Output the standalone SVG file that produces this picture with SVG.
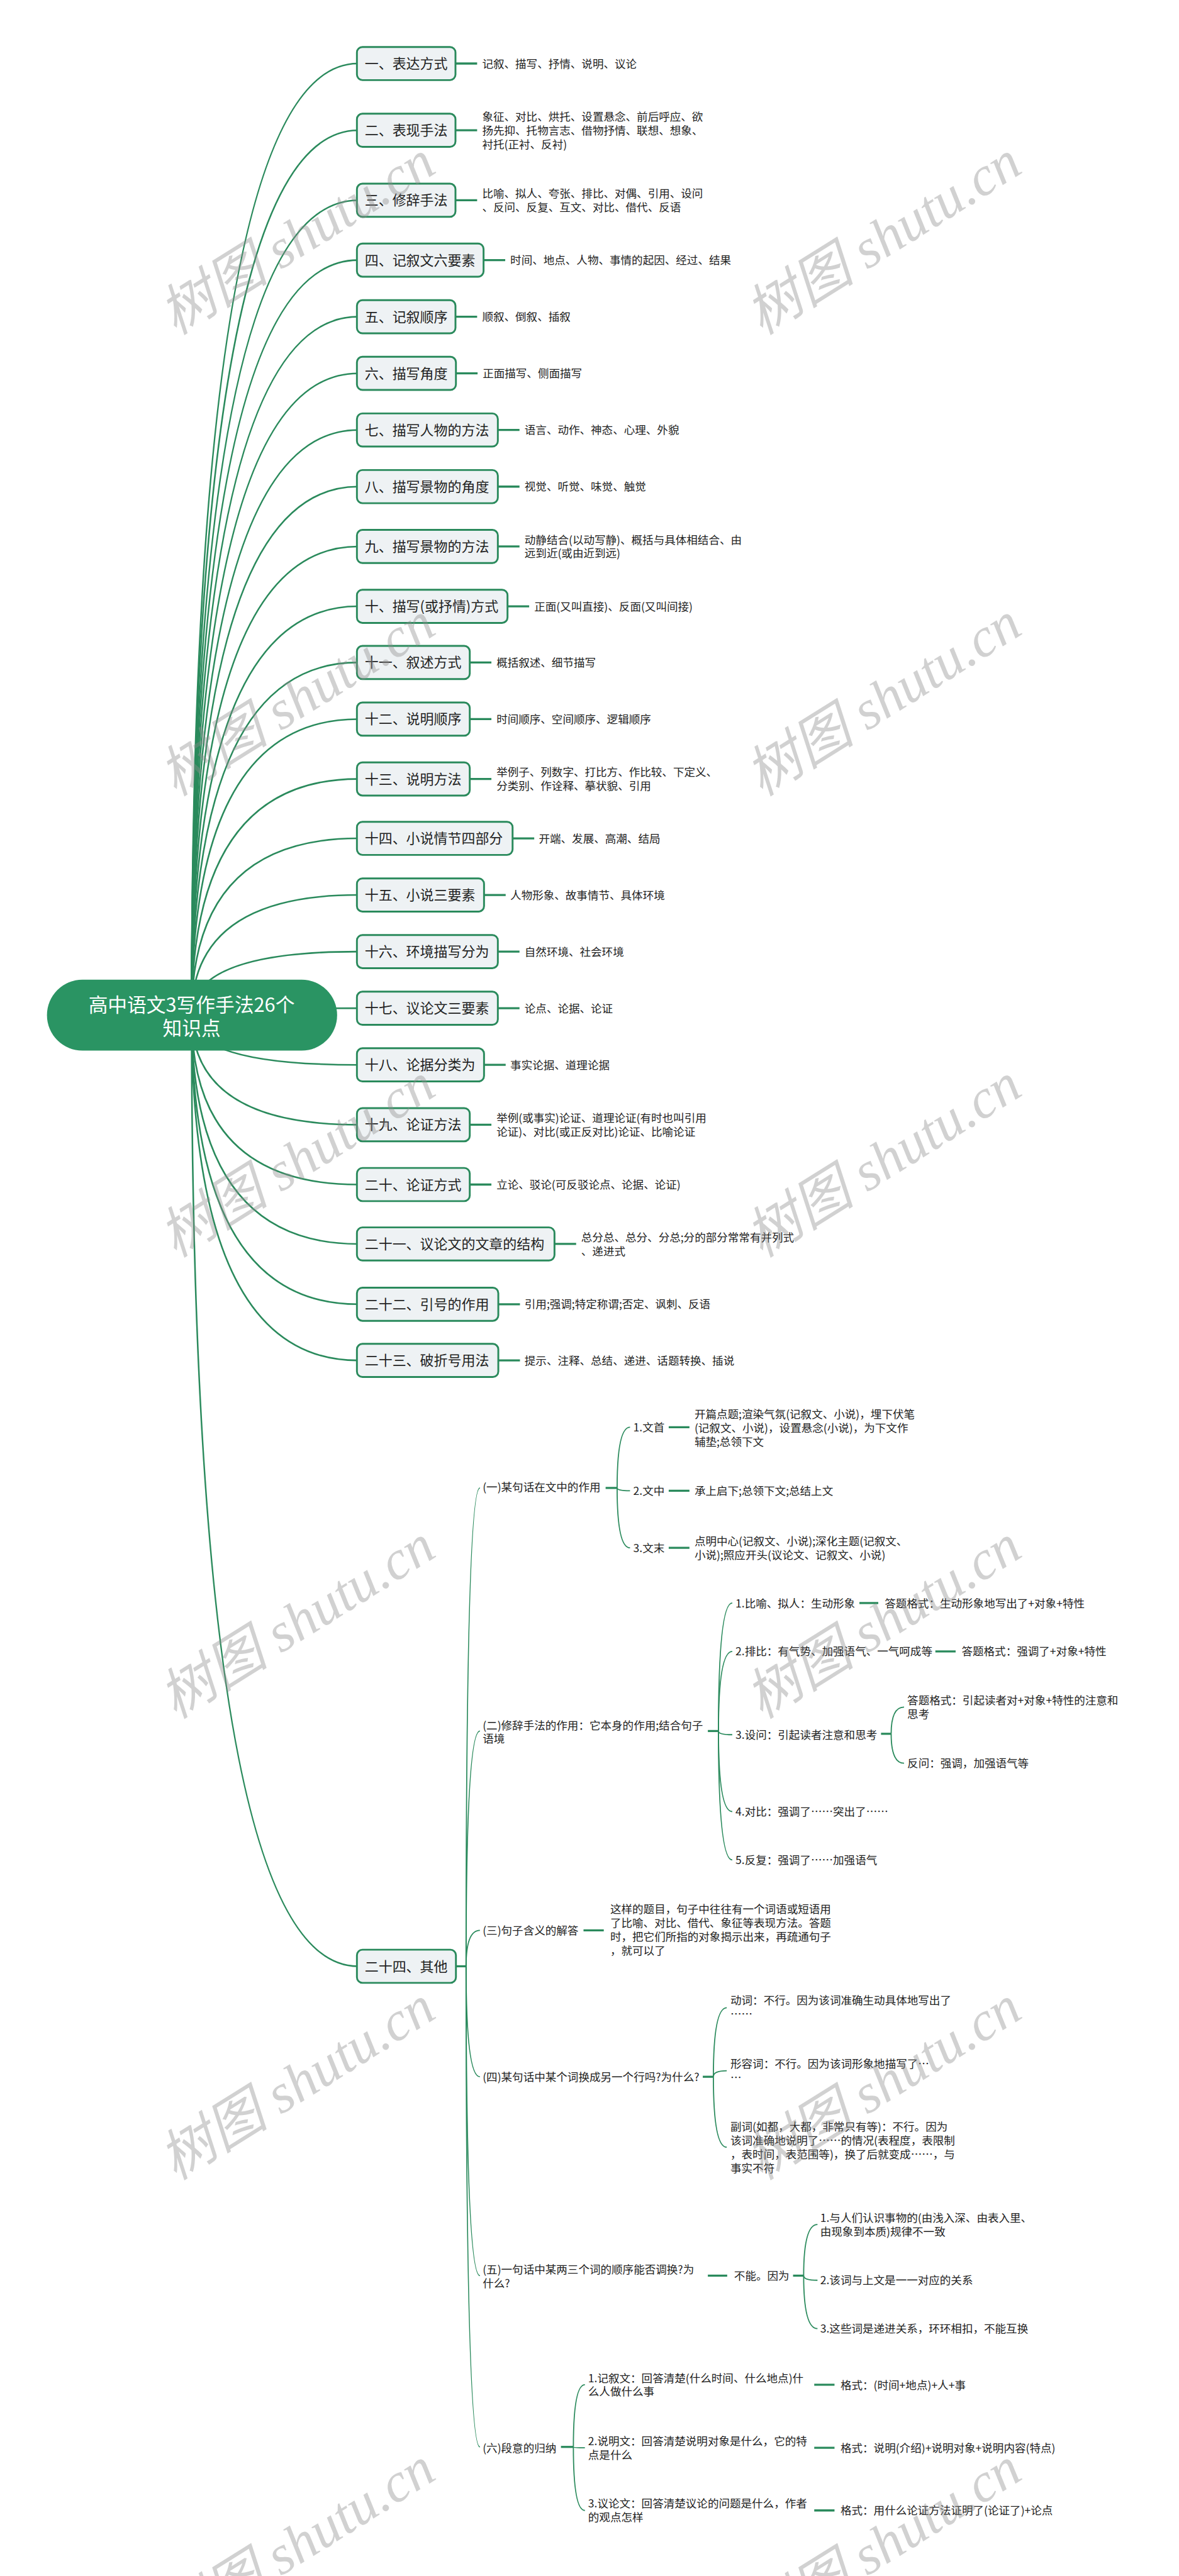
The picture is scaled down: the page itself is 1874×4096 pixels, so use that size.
<svg xmlns="http://www.w3.org/2000/svg" width="1874" height="4096" viewBox="0 0 1874 4096">
<style>
.c{fill:none;stroke:#2a8a5c;stroke-width:3.5}
.s{fill:none;stroke:#2a8a5c;stroke-width:2.5}
.k{stroke:#2a8a5c;stroke-width:4.5}
.box{fill:#eef2f4;stroke:#2a8a5c;stroke-width:4}
text{font-family:"Noto Sans CJK SC","Liberation Sans",sans-serif;fill:#222}
.nt{font-size:30px}
.lt{font-size:24px}
.rt{font-size:42px;fill:#ffffff;text-anchor:middle}
.wm{font-family:"Liberation Serif","Noto Sans CJK SC",serif;font-style:italic;font-size:120px;fill:#8c8c8c;fill-opacity:0.4;text-anchor:middle}
</style>
<rect width="1874" height="4096" fill="#ffffff"/>
<g transform="scale(0.73203)">
<g id="connectors">
<path class="c" d="M416 2205 Q416 138 777 138"/>
<path class="c" d="M416 2205 Q416 283 777 283"/>
<path class="c" d="M416 2205 Q416 435 777 435"/>
<path class="c" d="M416 2205 Q416 565 777 565"/>
<path class="c" d="M416 2205 Q416 688 777 688"/>
<path class="c" d="M416 2205 Q416 811 777 811"/>
<path class="c" d="M416 2205 Q416 934 777 934"/>
<path class="c" d="M416 2205 Q416 1057 777 1057"/>
<path class="c" d="M416 2205 Q416 1187 777 1187"/>
<path class="c" d="M416 2205 Q416 1317 777 1317"/>
<path class="c" d="M416 2205 Q416 1439 777 1439"/>
<path class="c" d="M416 2205 Q416 1562 777 1562"/>
<path class="c" d="M416 2205 Q416 1692 777 1692"/>
<path class="c" d="M416 2205 Q416 1821 777 1821"/>
<path class="c" d="M416 2205 Q416 1944 777 1944"/>
<path class="c" d="M416 2205 Q416 2067 777 2067"/>
<path class="c" d="M416 2205 Q416 2190 777 2190"/>
<path class="c" d="M416 2205 Q416 2313 777 2313"/>
<path class="c" d="M416 2205 Q416 2443 777 2443"/>
<path class="c" d="M416 2205 Q416 2573 777 2573"/>
<path class="c" d="M416 2205 Q416 2702 777 2702"/>
<path class="c" d="M416 2205 Q416 2833 777 2833"/>
<path class="c" d="M416 2205 Q416 2955 777 2955"/>
<path class="c" d="M416 2205 Q416 4271 777 4271"/>
<line class="k" x1="989" y1="138" x2="1036" y2="138"/>
<line class="k" x1="989" y1="283" x2="1036" y2="283"/>
<line class="k" x1="989" y1="435" x2="1036" y2="435"/>
<line class="k" x1="1050" y1="565" x2="1097" y2="565"/>
<line class="k" x1="989" y1="688" x2="1036" y2="688"/>
<line class="k" x1="990" y1="811" x2="1037" y2="811"/>
<line class="k" x1="1081" y1="934" x2="1128" y2="934"/>
<line class="k" x1="1081" y1="1057" x2="1128" y2="1057"/>
<line class="k" x1="1081" y1="1187" x2="1128" y2="1187"/>
<line class="k" x1="1102" y1="1317" x2="1149" y2="1317"/>
<line class="k" x1="1020" y1="1439" x2="1067" y2="1439"/>
<line class="k" x1="1020" y1="1562" x2="1067" y2="1562"/>
<line class="k" x1="1020" y1="1692" x2="1067" y2="1692"/>
<line class="k" x1="1113" y1="1821" x2="1160" y2="1821"/>
<line class="k" x1="1051" y1="1944" x2="1098" y2="1944"/>
<line class="k" x1="1081" y1="2067" x2="1128" y2="2067"/>
<line class="k" x1="1081" y1="2190" x2="1128" y2="2190"/>
<line class="k" x1="1051" y1="2313" x2="1098" y2="2313"/>
<line class="k" x1="1020" y1="2443" x2="1067" y2="2443"/>
<line class="k" x1="1020" y1="2573" x2="1067" y2="2573"/>
<line class="k" x1="1204" y1="2702" x2="1251" y2="2702"/>
<line class="k" x1="1082" y1="2833" x2="1129" y2="2833"/>
<line class="k" x1="1082" y1="2955" x2="1129" y2="2955"/>
<line class="k" x1="990" y1="4271" x2="1012" y2="4271"/>
<path class="s" d="M1012 4271 Q1012 3232 1042 3232"/>
<path class="s" d="M1012 4271 Q1012 3760 1042 3760"/>
<path class="s" d="M1012 4271 Q1012 4193 1042 4193"/>
<path class="s" d="M1012 4271 Q1012 4511 1042 4511"/>
<path class="s" d="M1012 4271 Q1012 4943 1042 4943"/>
<path class="s" d="M1012 4271 Q1012 5315 1042 5315"/>
<line class="k" x1="1315" y1="3232" x2="1340" y2="3232"/>
<path class="s" d="M1340 3232 Q1340 3100 1368 3100"/>
<path class="s" d="M1340 3232 Q1340 3238 1368 3238"/>
<path class="s" d="M1340 3232 Q1340 3362 1368 3362"/>
<line class="k" x1="1452" y1="3100" x2="1497" y2="3100"/>
<line class="k" x1="1452" y1="3238" x2="1497" y2="3238"/>
<line class="k" x1="1452" y1="3362" x2="1497" y2="3362"/>
<line class="k" x1="1537" y1="3760" x2="1560" y2="3760"/>
<path class="s" d="M1560 3760 Q1560 3482 1590 3482"/>
<path class="s" d="M1560 3760 Q1560 3587 1590 3587"/>
<path class="s" d="M1560 3760 Q1560 3768 1590 3768"/>
<path class="s" d="M1560 3760 Q1560 3935 1590 3935"/>
<path class="s" d="M1560 3760 Q1560 4040 1590 4040"/>
<line class="k" x1="1866" y1="3482" x2="1907" y2="3482"/>
<line class="k" x1="2031" y1="3587" x2="2075" y2="3587"/>
<line class="k" x1="1913" y1="3766" x2="1935" y2="3766"/>
<path class="s" d="M1935 3766 Q1935 3708 1963 3708"/>
<path class="s" d="M1935 3766 Q1935 3830 1963 3830"/>
<line class="k" x1="1267" y1="4193" x2="1311" y2="4193"/>
<line class="k" x1="1526" y1="4511" x2="1549" y2="4511"/>
<path class="s" d="M1549 4511 Q1549 4361 1578 4361"/>
<path class="s" d="M1549 4511 Q1549 4498 1578 4498"/>
<path class="s" d="M1549 4511 Q1549 4664 1578 4664"/>
<line class="k" x1="1537" y1="4943" x2="1579" y2="4943"/>
<line class="k" x1="1722" y1="4943" x2="1745" y2="4943"/>
<path class="s" d="M1745 4943 Q1745 4832 1775 4832"/>
<path class="s" d="M1745 4943 Q1745 4953 1775 4953"/>
<path class="s" d="M1745 4943 Q1745 5058 1775 5058"/>
<line class="k" x1="1218" y1="5315" x2="1245" y2="5315"/>
<path class="s" d="M1245 5315 Q1245 5180 1270 5180"/>
<path class="s" d="M1245 5315 Q1245 5317 1270 5317"/>
<path class="s" d="M1245 5315 Q1245 5453 1270 5453"/>
<line class="k" x1="1768" y1="5180" x2="1812" y2="5180"/>
<line class="k" x1="1768" y1="5317" x2="1812" y2="5317"/>
<line class="k" x1="1768" y1="5453" x2="1812" y2="5453"/>
</g>
<g id="root">
<rect x="102" y="2128" width="630" height="154" rx="77" fill="#2a9463"/>
<text class="rt" x="416" y="2198">高中语文3写作手法26个</text>
<text class="rt" x="416" y="2249">知识点</text>
</g>
<g id="n1"><rect class="box" x="775" y="102" width="214" height="72" rx="12"/><text class="nt" x="792" y="149">一、表达方式</text><text class="lt" x="1047" y="147">记叙、描写、抒情、说明、议论</text></g>
<g id="n2"><rect class="box" x="775" y="247" width="214" height="72" rx="12"/><text class="nt" x="792" y="294">二、表现手法</text><text class="lt" x="1047" y="262">象征、对比、烘托、设置悬念、前后呼应、欲</text><text class="lt" x="1047" y="292">扬先抑、托物言志、借物抒情、联想、想象、</text><text class="lt" x="1047" y="322">衬托(正衬、反衬)</text></g>
<g id="n3"><rect class="box" x="775" y="399" width="214" height="72" rx="12"/><text class="nt" x="792" y="446">三、修辞手法</text><text class="lt" x="1047" y="429">比喻、拟人、夸张、排比、对偶、引用、设问</text><text class="lt" x="1047" y="459">、反问、反复、互文、对比、借代、反语</text></g>
<g id="n4"><rect class="box" x="775" y="529" width="275" height="72" rx="12"/><text class="nt" x="792" y="576">四、记叙文六要素</text><text class="lt" x="1108" y="574">时间、地点、人物、事情的起因、经过、结果</text></g>
<g id="n5"><rect class="box" x="775" y="652" width="214" height="72" rx="12"/><text class="nt" x="792" y="699">五、记叙顺序</text><text class="lt" x="1047" y="697">顺叙、倒叙、插叙</text></g>
<g id="n6"><rect class="box" x="775" y="775" width="215" height="72" rx="12"/><text class="nt" x="792" y="822">六、描写角度</text><text class="lt" x="1048" y="820">正面描写、侧面描写</text></g>
<g id="n7"><rect class="box" x="775" y="898" width="306" height="72" rx="12"/><text class="nt" x="792" y="945">七、描写人物的方法</text><text class="lt" x="1139" y="943">语言、动作、神态、心理、外貌</text></g>
<g id="n8"><rect class="box" x="775" y="1021" width="306" height="72" rx="12"/><text class="nt" x="792" y="1068">八、描写景物的角度</text><text class="lt" x="1139" y="1066">视觉、听觉、味觉、触觉</text></g>
<g id="n9"><rect class="box" x="775" y="1151" width="306" height="72" rx="12"/><text class="nt" x="792" y="1198">九、描写景物的方法</text><text class="lt" x="1139" y="1181">动静结合(以动写静)、概括与具体相结合、由</text><text class="lt" x="1139" y="1211">远到近(或由近到远)</text></g>
<g id="n10"><rect class="box" x="775" y="1281" width="327" height="72" rx="12"/><text class="nt" x="792" y="1328">十、描写(或抒情)方式</text><text class="lt" x="1160" y="1326">正面(又叫直接)、反面(又叫间接)</text></g>
<g id="n11"><rect class="box" x="775" y="1403" width="245" height="72" rx="12"/><text class="nt" x="792" y="1450">十一、叙述方式</text><text class="lt" x="1078" y="1448">概括叙述、细节描写</text></g>
<g id="n12"><rect class="box" x="775" y="1526" width="245" height="72" rx="12"/><text class="nt" x="792" y="1573">十二、说明顺序</text><text class="lt" x="1078" y="1571">时间顺序、空间顺序、逻辑顺序</text></g>
<g id="n13"><rect class="box" x="775" y="1656" width="245" height="72" rx="12"/><text class="nt" x="792" y="1703">十三、说明方法</text><text class="lt" x="1078" y="1686">举例子、列数字、打比方、作比较、下定义、</text><text class="lt" x="1078" y="1716">分类别、作诠释、摹状貌、引用</text></g>
<g id="n14"><rect class="box" x="775" y="1785" width="338" height="72" rx="12"/><text class="nt" x="792" y="1832">十四、小说情节四部分</text><text class="lt" x="1170" y="1830">开端、发展、高潮、结局</text></g>
<g id="n15"><rect class="box" x="775" y="1908" width="276" height="72" rx="12"/><text class="nt" x="792" y="1955">十五、小说三要素</text><text class="lt" x="1108" y="1953">人物形象、故事情节、具体环境</text></g>
<g id="n16"><rect class="box" x="775" y="2031" width="306" height="72" rx="12"/><text class="nt" x="792" y="2078">十六、环境描写分为</text><text class="lt" x="1139" y="2076">自然环境、社会环境</text></g>
<g id="n17"><rect class="box" x="775" y="2154" width="306" height="72" rx="12"/><text class="nt" x="792" y="2201">十七、议论文三要素</text><text class="lt" x="1139" y="2199">论点、论据、论证</text></g>
<g id="n18"><rect class="box" x="775" y="2277" width="276" height="72" rx="12"/><text class="nt" x="792" y="2324">十八、论据分类为</text><text class="lt" x="1108" y="2322">事实论据、道理论据</text></g>
<g id="n19"><rect class="box" x="775" y="2407" width="245" height="72" rx="12"/><text class="nt" x="792" y="2454">十九、论证方法</text><text class="lt" x="1078" y="2437">举例(或事实)论证、道理论证(有时也叫引用</text><text class="lt" x="1078" y="2467">论证)、对比(或正反对比)论证、比喻论证</text></g>
<g id="n20"><rect class="box" x="775" y="2537" width="245" height="72" rx="12"/><text class="nt" x="792" y="2584">二十、论证方式</text><text class="lt" x="1078" y="2582">立论、驳论(可反驳论点、论据、论证)</text></g>
<g id="n21"><rect class="box" x="775" y="2666" width="429" height="72" rx="12"/><text class="nt" x="792" y="2713">二十一、议论文的文章的结构</text><text class="lt" x="1262" y="2696">总分总、总分、分总;分的部分常常有并列式</text><text class="lt" x="1262" y="2726">、递进式</text></g>
<g id="n22"><rect class="box" x="775" y="2797" width="307" height="72" rx="12"/><text class="nt" x="792" y="2844">二十二、引号的作用</text><text class="lt" x="1139" y="2842">引用;强调;特定称谓;否定、讽刺、反语</text></g>
<g id="n23"><rect class="box" x="775" y="2919" width="307" height="72" rx="12"/><text class="nt" x="792" y="2966">二十三、破折号用法</text><text class="lt" x="1139" y="2964">提示、注释、总结、递进、话题转换、插说</text></g>
<g id="n24"><rect class="box" x="775" y="4235" width="215" height="72" rx="12"/><text class="nt" x="792" y="4282">二十四、其他</text></g>
<g id="n24-1">
<text class="lt" x="1048" y="3239">(一)某句话在文中的作用</text>
<text class="lt" x="1375" y="3109">1.文首</text>
<text class="lt" x="1508" y="3081">开篇点题;渲染气氛(记叙文、小说)，埋下伏笔</text>
<text class="lt" x="1508" y="3111">(记叙文、小说)，设置悬念(小说)，为下文作</text>
<text class="lt" x="1508" y="3141">辅垫;总领下文</text>
<text class="lt" x="1375" y="3247">2.文中</text>
<text class="lt" x="1508" y="3247">承上启下;总领下文;总结上文</text>
<text class="lt" x="1375" y="3371">3.文末</text>
<text class="lt" x="1508" y="3356">点明中心(记叙文、小说);深化主题(记叙文、</text>
<text class="lt" x="1508" y="3386">小说);照应开头(议论文、记叙文、小说)</text>
</g>
<g id="n24-2">
<text class="lt" x="1048" y="3756">(二)修辞手法的作用：它本身的作用;结合句子</text>
<text class="lt" x="1048" y="3786">语境</text>
<text class="lt" x="1597" y="3491">1.比喻、拟人：生动形象</text>
<text class="lt" x="1921" y="3491">答题格式：生动形象地写出了+对象+特性</text>
<text class="lt" x="1597" y="3596">2.排比：有气势、加强语气、一气呵成等</text>
<text class="lt" x="2088" y="3596">答题格式：强调了+对象+特性</text>
<text class="lt" x="1597" y="3777">3.设问：引起读者注意和思考</text>
<text class="lt" x="1970" y="3702">答题格式：引起读者对+对象+特性的注意和</text>
<text class="lt" x="1970" y="3732">思考</text>
<text class="lt" x="1970" y="3839">反问：强调，加强语气等</text>
<text class="lt" x="1597" y="3944">4.对比：强调了……突出了……</text>
<text class="lt" x="1597" y="4049">5.反复：强调了……加强语气</text>
</g>
<g id="n24-3">
<text class="lt" x="1048" y="4202">(三)句子含义的解答</text>
<text class="lt" x="1325" y="4156">这样的题目，句子中往往有一个词语或短语用</text>
<text class="lt" x="1325" y="4186">了比喻、对比、借代、象征等表现方法。答题</text>
<text class="lt" x="1325" y="4216">时，把它们所指的对象揭示出来，再疏通句子</text>
<text class="lt" x="1325" y="4246">，就可以了</text>
</g>
<g id="n24-4">
<text class="lt" x="1048" y="4520">(四)某句话中某个词换成另一个行吗?为什么?</text>
<text class="lt" x="1586" y="4354">动词：不行。因为该词准确生动具体地写出了</text>
<text class="lt" x="1586" y="4384">……</text>
<text class="lt" x="1586" y="4492">形容词：不行。因为该词形象地描写了…</text>
<text class="lt" x="1586" y="4522">…</text>
<text class="lt" x="1586" y="4628">副词(如都，大都，非常只有等)：不行。因为</text>
<text class="lt" x="1586" y="4658">该词准确地说明了……的情况(表程度，表限制</text>
<text class="lt" x="1586" y="4688">，表时间，表范围等)，换了后就变成……，与</text>
<text class="lt" x="1586" y="4718">事实不符</text>
</g>
<g id="n24-5">
<text class="lt" x="1048" y="4939">(五)一句话中某两三个词的顺序能否调换?为</text>
<text class="lt" x="1048" y="4969">什么?</text>
<text class="lt" x="1594" y="4952">不能。因为</text>
<text class="lt" x="1781" y="4826">1.与人们认识事物的(由浅入深、由表入里、</text>
<text class="lt" x="1781" y="4856">由现象到本质)规律不一致</text>
<text class="lt" x="1781" y="4962">2.该词与上文是一一对应的关系</text>
<text class="lt" x="1781" y="5067">3.这些词是递进关系，环环相扣，不能互换</text>
</g>
<g id="n24-6">
<text class="lt" x="1048" y="5326">(六)段意的归纳</text>
<text class="lt" x="1277" y="5174">1.记叙文：回答清楚(什么时间、什么地点)什</text>
<text class="lt" x="1277" y="5204">么人做什么事</text>
<text class="lt" x="1825" y="5189">格式：(时间+地点)+人+事</text>
<text class="lt" x="1277" y="5311">2.说明文：回答清楚说明对象是什么，它的特</text>
<text class="lt" x="1277" y="5341">点是什么</text>
<text class="lt" x="1825" y="5326">格式：说明(介绍)+说明对象+说明内容(特点)</text>
<text class="lt" x="1277" y="5447">3.议论文：回答清楚议论的问题是什么，作者</text>
<text class="lt" x="1277" y="5477">的观点怎样</text>
<text class="lt" x="1825" y="5462">格式：用什么论证方法证明了(论证了)+论点</text>
</g>
<g id="watermarks">
<text class="wm" transform="translate(645 517) rotate(-32)" y="40">树图 shutu.cn</text>
<text class="wm" transform="translate(1918 517) rotate(-32)" y="40">树图 shutu.cn</text>
<text class="wm" transform="translate(645 1519) rotate(-32)" y="40">树图 shutu.cn</text>
<text class="wm" transform="translate(1918 1519) rotate(-32)" y="40">树图 shutu.cn</text>
<text class="wm" transform="translate(645 2521) rotate(-32)" y="40">树图 shutu.cn</text>
<text class="wm" transform="translate(1918 2521) rotate(-32)" y="40">树图 shutu.cn</text>
<text class="wm" transform="translate(645 3523) rotate(-32)" y="40">树图 shutu.cn</text>
<text class="wm" transform="translate(1918 3523) rotate(-32)" y="40">树图 shutu.cn</text>
<text class="wm" transform="translate(645 4525) rotate(-32)" y="40">树图 shutu.cn</text>
<text class="wm" transform="translate(1918 4525) rotate(-32)" y="40">树图 shutu.cn</text>
<text class="wm" transform="translate(645 5527) rotate(-32)" y="40">树图 shutu.cn</text>
<text class="wm" transform="translate(1918 5527) rotate(-32)" y="40">树图 shutu.cn</text>
</g>
</g>
</svg>
